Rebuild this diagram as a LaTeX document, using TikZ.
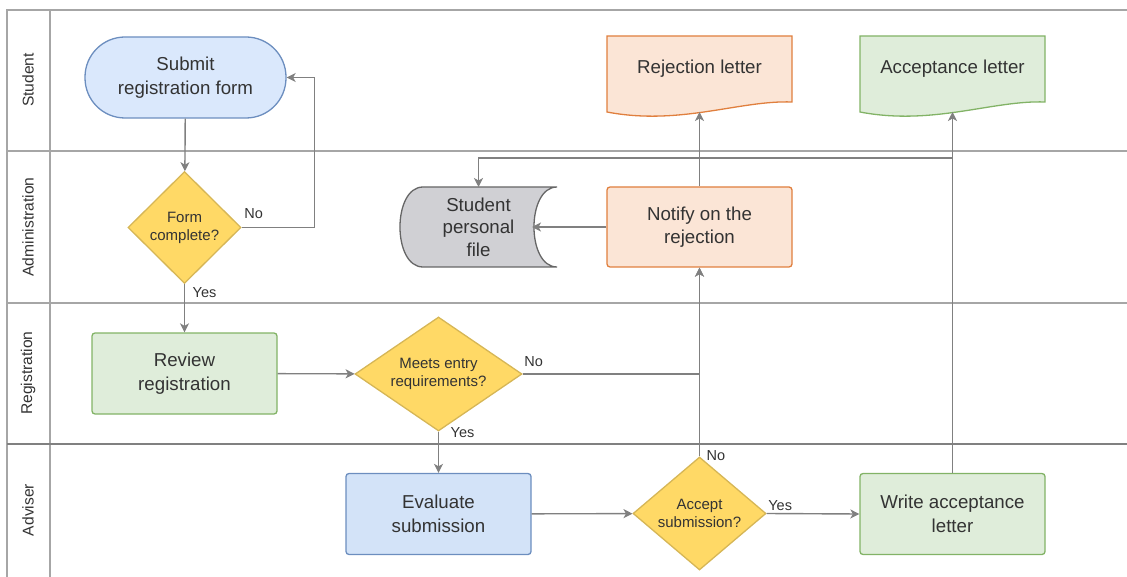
\documentclass[tikz,border=0pt]{standalone}
\usepackage{fontspec}
\setmainfont{Liberation Sans}
\usepackage{xcolor}
\usetikzlibrary{arrows.meta, positioning, shapes.geometric, backgrounds}
\definecolor{txt}{HTML}{333333}
\definecolor{linegray}{HTML}{808080}
\definecolor{lanegray}{HTML}{A6A6A6}
\definecolor{bluefill}{HTML}{DAE8FC}
\definecolor{blueline}{HTML}{6C8EBF}
\definecolor{yellowfill}{HTML}{FFD966}
\definecolor{yellowline}{HTML}{D6B656}
\definecolor{greenfill}{HTML}{DFEDDA}
\definecolor{greenline}{HTML}{82B366}
\definecolor{peachfill}{HTML}{FBE5D6}
\definecolor{peachline}{HTML}{E07F3E}
\definecolor{filegray}{HTML}{D0D0D4}
\definecolor{fileline}{HTML}{666666}

\begin{document}
\begin{tikzpicture}[
    x=1pt, y=-1pt,
    lanerule/.style={draw=lanegray, line width=1.3pt},
    lanelabel/.style={rotate=90, text=txt, inner sep=0pt, font=\fontsize{15.6}{18}\selectfont},
    block/.style={rectangle, draw, line width=1.3pt, rounded corners=3pt, minimum width=185pt, minimum height=81pt, align=center, text=txt, font=\fontsize{18.7}{23.5}\selectfont},
    terminal/.style={block, draw=blueline, fill=bluefill, rounded corners=40pt, minimum width=201pt},
    decision/.style={diamond, draw=yellowline, fill=yellowfill, line width=1.3pt, inner sep=0pt, align=center, text=txt, font=\fontsize{15}{18}\selectfont},
    docbox/.style={rectangle, outer sep=0pt, minimum width=185pt, minimum height=66pt, align=center, text=txt, font=\fontsize{18.7}{23.5}\selectfont},
    storebox/.style={rectangle, outer sep=0pt, minimum width=157pt, minimum height=80pt, align=center, text=txt, font=\fontsize{18.7}{22.5}\selectfont},
    lbl/.style={inner sep=0pt, anchor=base west, text=txt, font=\fontsize{14.5}{17}\selectfont},
    line/.style={draw=linegray, line width=1.4pt, -{Stealth[length=9pt, width=9pt, inset=2.5pt]}}
]
\useasboundingbox (0,0) rectangle (1127,577);

% Lanes
\draw[lanerule] (7,577) -- (7,10) -- (1127,10);
\draw[lanerule] (50,10) -- (50,577);
\draw[lanerule] (7,151) -- (1127,151);
\draw[lanerule] (7,303) -- (1127,303);
\draw[lanerule, draw=linegray, line width=2pt] (7,443.5) -- (1127,443.5);
\foreach \yc/\lname/\ltext in {80/student/Student, 227/admin/Administration, 373/registration/Registration, 510/adviser/Adviser}
{
    \node[lanelabel] (\lname) at (28,\yc) {\ltext};
}

% Nodes
\node[terminal] (submit) at (185.5,77.5) {Submit\\registration form};
\node[decision, aspect=1, minimum width=113pt, minimum height=112pt] (formq) at (184.5,227.5) {Form\\complete?};
\node[block, draw=greenline, fill=greenfill] (review) at (184.5,373.5) {Review\\registration};
\node[decision, aspect=1.46, minimum width=167pt, minimum height=114pt] (meets) at (438.5,374) {Meets entry\\requirements?};
\node[block, draw=blueline, fill=bluefill!94!blueline] (evaluate) at (438.5,514) {Evaluate\\submission};
\node[decision, aspect=1.18, minimum width=133pt, minimum height=113pt] (acceptq) at (699.5,513.5) {Accept\\submission?};
\node[block, draw=greenline, fill=greenfill] (write) at (952.5,514) {Write acceptance\\letter};
\node[block, draw=peachline, fill=peachfill, minimum height=80pt] (notify) at (699.5,227) {Notify on the\\rejection};
\node[storebox] (spfile) at (478.5,227) {Student\\personal\\file};
\node[docbox] (rejection) at (699.5,69) {Rejection letter};
\node[docbox] (acceptance) at (952.5,69) {Acceptance letter};

% Shapes behind the text
\begin{scope}[on background layer]
\filldraw[fill=peachfill, draw=peachline, line width=1.3pt] (rejection.north west) -- (rejection.north east) -- (rejection.south east) .. controls +(-52,-2) and +(73,14) .. ([yshift=-10pt]rejection.south west) -- cycle;
\filldraw[fill=greenfill, draw=greenline, line width=1.3pt] (acceptance.north west) -- (acceptance.north east) -- (acceptance.south east) .. controls +(-52,-2) and +(73,14) .. ([yshift=-10pt]acceptance.south west) -- cycle;
\filldraw[fill=filegray, draw=fileline, line width=1.3pt] (spfile.north east) -- ([xshift=23pt]spfile.north west) .. controls +(-30.7,0) and +(-30.7,0) .. ([xshift=23pt]spfile.south west) -- (spfile.south east) .. controls +(-30.7,0) and +(-30.7,0) .. (spfile.north east) -- cycle;
\end{scope}

% Draw arrows
\draw[line] (submit) -- (formq);
\draw[line] (formq.east) node[lbl, xshift=2pt, yshift=8.5pt] (noform) {No} -| ([xshift=28pt]submit.east) -- (submit.east);
\draw[line] (formq.south) node[lbl, xshift=7.5pt, yshift=-13pt] (yesform) {Yes} -- (review.north);
\draw[line] (review) -- (meets);
\draw[line] (meets.east) node[lbl, xshift=1pt, yshift=8pt] (nomeets) {No} -| (notify.south);
\draw[line] (meets.south) node[lbl, xshift=11.5pt, yshift=-6pt] (yesmeets) {Yes} -- (evaluate.north);
\draw[line] (evaluate) -- (acceptq);
\draw[line] (acceptq.north) node[lbl, xshift=6.5pt, yshift=-4pt] (noaccept) {No} -- (notify.south);
\draw[line] (acceptq.east) node[lbl, xshift=1pt, yshift=3.5pt] (yesaccept) {Yes} -- (write.west);
\draw[line] (notify.west) -- ([xshift=-25pt]spfile.east);
\draw[line] (notify.north) -- ([yshift=-10pt]rejection.south);
\draw[line] (write.north) -- ([yshift=-10pt]acceptance.south);
\draw[line] (write.north) |- ([yshift=29pt]spfile.north) -- (spfile.north);

\end{tikzpicture}
\end{document}
